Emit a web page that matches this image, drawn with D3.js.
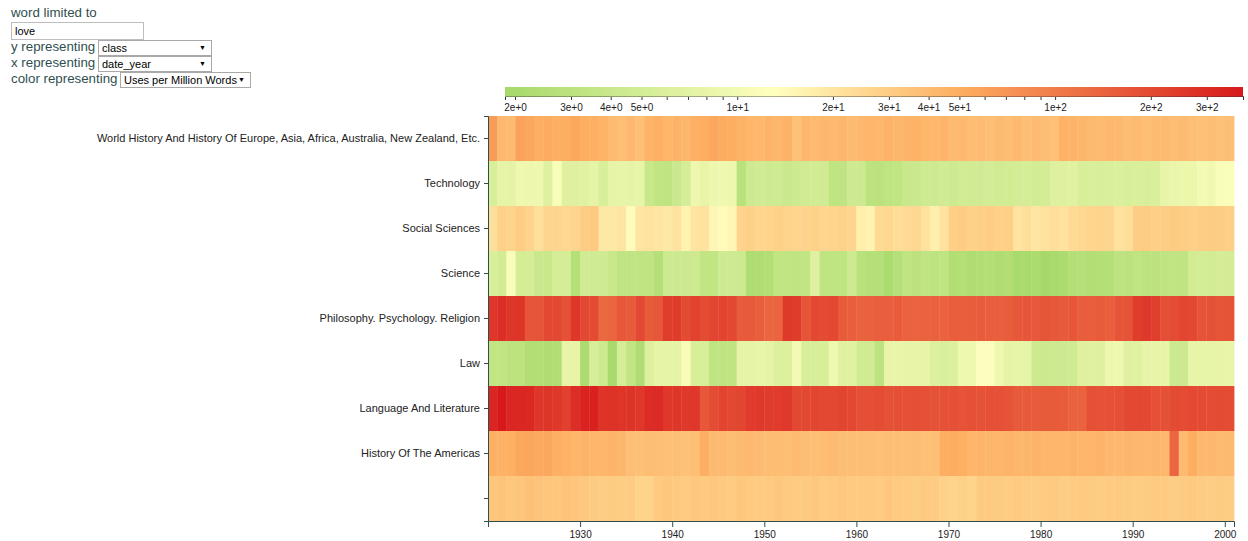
<!DOCTYPE html>
<html>
<head>
<meta charset="utf-8">
<script src="https://cdn.jsdelivr.net/npm/d3@7"></script>
<style>
  html, body { margin: 0; padding: 0; background: #fff; }
  body { font-family: "Liberation Sans", Arial, sans-serif; width: 1248px; height: 541px; position: relative; overflow: hidden; }
  .lbl { position: absolute; left: 11px; font-size: 13.3px; line-height: 16px; color: #2f4f4f; white-space: nowrap; }
  .box { position: absolute; box-sizing: border-box; border: 1px solid #a9a9a9; background: #fff; font-size: 11px; line-height: 14px; color: #000; padding-left: 3px; white-space: nowrap; }
  .box .arr { position: absolute; right: 5px; top: 0; font-size: 7px; }
  svg { position: absolute; left: 0; top: 0; }
</style>
</head>
<body>
<script>
// classes on the y axis, listed top to bottom
const categories = [
  "World History And History Of Europe, Asia, Africa, Australia, New Zealand, Etc.",
  "Technology",
  "Social Sciences",
  "Science",
  "Philosophy. Psychology. Religion",
  "Law",
  "Language And Literature",
  "History Of The Americas",
  ""
];

const firstYear = 1920;
const lastYear = 2000;
const xTickYears = [1930, 1940, 1950, 1960, 1970, 1980, 1990, 2000];

// uses of "love" per million words, one value per year 1920..2000
const worldHistory = [
  66, 42, 40, 60, 55, 50, 52, 48, 50, 55,
  50, 48, 45, 40, 38, 42, 37, 45, 48, 44,
  46, 43, 48, 50, 55, 52, 50, 46, 44, 42,
  45, 43, 46, 36, 44, 40, 42, 41, 43, 40,
  42, 44, 42, 46, 43, 45, 47, 44, 42, 45,
  40, 41, 39, 40, 38, 40, 39, 41, 38, 40,
  39, 37, 47, 45, 43, 41, 40, 42, 41, 39,
  40, 38, 40, 41, 39, 40, 38, 37, 39, 36,
  38
];
const technology = [
  5.6, 7.5, 7.2, 9, 8.8, 9, 6.5, 11.5, 6.5, 6.4,
  6.6, 7.5, 5.6, 7.5, 7.8, 7.4, 7.6, 4.0, 3.4, 3.2,
  4.1, 5.1, 8.8, 7.8, 8.8, 9.0, 8.8, 2.8, 4.4, 4.7,
  4.4, 4.6, 4.1, 4.5, 4.7, 4.8, 4.7, 3.2, 3.3, 4.4,
  4.4, 3.1, 3.0, 3.2, 3.4, 4.0, 4.1, 4.6, 4.4, 4.7,
  4.5, 4.9, 4.7, 4.7, 5.0, 4.7, 4.9, 5.0, 5.1, 4.9,
  5.0, 6.5, 6.3, 6.6, 5.6, 5.8, 5.5, 5.7, 5.9, 5.6,
  5.8, 5.5, 5.7, 7.8, 8.2, 8.5, 8.5, 10, 9.5, 11.5,
  12
];
const socialSciences = [
  22, 28, 27, 30, 27, 22, 26, 26, 25, 26,
  30, 32, 19, 19, 20, 14, 20, 21, 20, 19,
  21, 16, 20, 21, 15, 14, 15, 27, 28, 26,
  27, 28, 27, 26, 27, 28, 26, 27, 28, 26,
  17, 16, 24, 25, 23, 24, 25, 21, 17, 21,
  29, 30, 28, 29, 30, 28, 29, 21, 22, 20,
  21, 22, 21, 24, 25, 26, 27, 26, 21, 22,
  30, 31, 29, 30, 31, 30, 29, 30, 31, 30,
  29
];
const science = [
  5.6, 4.9, 11.5, 5.1, 5.1, 4.0, 4.0, 5.1, 5.1, 2.6,
  4.7, 4.7, 4.6, 4.0, 3.3, 3.3, 3.3, 3.3, 2.6, 4.4,
  4.4, 4.3, 4.4, 3.4, 3.4, 4.6, 4.6, 4.5, 2.3, 2.3,
  2.4, 3.4, 3.4, 3.3, 3.4, 6.5, 3.2, 3.2, 3.2, 4.4,
  2.8, 2.6, 2.6, 2.1, 2.6, 3.2, 3.0, 3.3, 3.1, 3.2,
  2.4, 2.5, 2.3, 2.4, 2.5, 2.3, 2.4, 2.0, 1.95, 2.1,
  1.86, 2.0, 2.1, 2.5, 2.6, 2.4, 2.5, 2.6, 3.1, 3.0,
  3.2, 3.1, 3.0, 3.3, 3.4, 3.3, 4.9, 5.0, 4.8, 5.1,
  5.0
];
const philosophy = [
  260, 290, 260, 265, 170, 175, 200, 205, 180, 260,
  200, 195, 130, 135, 165, 160, 205, 160, 165, 235,
  240, 195, 220, 195, 210, 215, 205, 155, 160, 150,
  135, 138, 250, 240, 170, 200, 195, 205, 155, 150,
  140, 145, 150, 150, 155, 140, 138, 142, 145, 140,
  150, 148, 152, 155, 150, 148, 152, 165, 168, 162,
  170, 165, 160, 168, 152, 150, 155, 150, 170, 175,
  235, 250, 230, 185, 190, 210, 205, 175, 180, 170,
  175
];
const law = [
  3.4, 3.4, 3.1, 3.1, 2.4, 2.4, 2.3, 2.4, 7.8, 7.8,
  2.1, 5.4, 4.5, 2.0, 5.1, 3.4, 2.3, 6.0, 7.5, 7.5,
  7.5, 11, 5.6, 5.6, 3.2, 3.2, 3.3, 7.5, 7.5, 7.6,
  7.5, 6.0, 6.0, 10, 5.6, 5.6, 5.6, 9.0, 6.6, 6.6,
  4.7, 4.7, 3.1, 7.8, 8.0, 7.6, 7.8, 7.9, 6.0, 5.8,
  6.0, 9.0, 9.2, 12.5, 12.5, 9.0, 7.5, 7.6, 7.4, 4.4,
  4.3, 4.5, 4.4, 4.6, 6.5, 6.6, 6.4, 8.8, 9.0, 6.5,
  6.6, 7.8, 7.9, 7.7, 4.2, 4.3, 7.8, 7.9, 7.6, 7.8,
  8.0
];
const languageLiterature = [
  330, 390, 320, 320, 315, 260, 265, 255, 225, 290,
  340, 345, 270, 275, 265, 270, 255, 300, 305, 255,
  260, 250, 255, 165, 190, 215, 205, 210, 245, 250,
  240, 245, 250, 205, 200, 210, 205, 200, 210, 205,
  185, 185, 190, 180, 185, 180, 185, 180, 178, 182,
  180, 176, 180, 178, 182, 180, 176, 158, 160, 155,
  158, 160, 156, 145, 142, 180, 178, 182, 185, 200,
  205, 198, 182, 180, 195, 192, 198, 195, 190, 196,
  194
];
const historyAmericas = [
  48, 47, 49, 55, 56, 54, 55, 48, 47, 44,
  45, 43, 44, 45, 43, 38, 37, 39, 38, 37,
  38, 36, 38, 48, 40, 41, 39, 40, 41, 40,
  39, 39, 38, 40, 39, 38, 39, 40, 38, 39,
  38, 38, 37, 39, 38, 38, 39, 37, 38, 50,
  51, 49, 44, 45, 43, 44, 45, 44, 43, 45,
  44, 43, 44, 45, 43, 44, 45, 42, 41, 43,
  42, 41, 43, 42, 135, 40, 50, 41, 42, 40,
  41
];
const unclassified = [
  34, 35, 33, 34, 36, 35, 34, 33, 35, 34,
  33, 31, 30, 31, 30, 31, 27, 27, 32, 33,
  32, 31, 33, 32, 33, 32, 31, 33, 32, 31,
  32, 33, 32, 31, 32, 33, 31, 32, 33, 32,
  31, 32, 31, 33, 32, 31, 30, 32, 31, 28,
  27, 28, 27, 31, 32, 31, 30, 32, 31, 30,
  31, 32, 30, 31, 32, 31, 30, 31, 32, 31,
  30, 31, 32, 31, 30, 31, 32, 31, 30, 31,
  30
];

const seriesByClass = [
  worldHistory, technology, socialSciences, science, philosophy,
  law, languageLiterature, historyAmericas, unclassified
];

// ---- controls ----
const page = d3.select("body");
page.append("div").attr("class", "lbl").style("top", "5px").text("word limited to");
page.append("div").attr("class", "box")
  .style("left", "11px").style("top", "22px").style("width", "133px").style("height", "18px")
  .style("border-color", "#bdbdbd").style("line-height", "16px")
  .text("love");

function control(boxTop, label, boxLeft, boxWidth, value) {
  page.append("div").attr("class", "lbl").style("top", (boxTop - 1) + "px").text(label);
  const b = page.append("div").attr("class", "box")
    .style("left", boxLeft + "px").style("top", boxTop + "px")
    .style("width", boxWidth + "px").style("height", "16px");
  b.append("span").text(value);
  b.append("span").attr("class", "arr").text("\u25BC");
}
control(40, "y representing", 98, 114, "class");
control(56, "x representing", 98, 114, "date_year");
control(72, "color representing", 120, 131, "Uses per Million Words");

// ---- chart ----
const W = 1248, H = 541;
const plotLeft = 488, plotRight = 1234, plotTop = 116, plotBottom = 521;
const svg = page.append("svg").attr("width", W).attr("height", H);

const x = d3.scaleLinear().domain([firstYear, lastYear + 1]).range([plotLeft, plotRight]);
const y = d3.scaleBand().domain(categories).range([plotTop, plotBottom]);

const cells = [];
categories.forEach((c, ci) => {
  seriesByClass[ci].forEach((v, i) => cells.push({ c, year: firstYear + i, v }));
});

const extent = d3.extent(cells, d => d.v);
const color = d3.scaleLog()
  .domain([extent[0], 13, 50, extent[1]])
  .range(["#a6d96a", "#ffffbf", "#fdae61", "#d7191c"])
  .clamp(true);

svg.append("g").selectAll("rect").data(cells).join("rect")
  .attr("x", d => x(d.year))
  .attr("y", d => y(d.c))
  .attr("width", d => x(d.year + 1) - x(d.year) + 0.4)
  .attr("height", y.bandwidth())
  .attr("fill", d => color(d.v));

const axisColor = "#2f4f4f";
const gy = svg.append("g").attr("transform", `translate(${plotLeft},0)`)
  .call(d3.axisLeft(y).tickSize(4).tickSizeOuter(4).tickPadding(4));
const gx = svg.append("g").attr("transform", `translate(0,${plotBottom})`)
  .call(d3.axisBottom(x).tickValues(xTickYears).tickFormat(d3.format("d")).tickSize(6).tickPadding(4));
[gx, gy].forEach(g => {
  g.selectAll("path, line").attr("stroke", axisColor);
  g.selectAll("text").attr("fill", "#222")
    .style("font-family", "'Liberation Sans', Arial, sans-serif").style("font-size", "10px");
});
gy.selectAll("text").style("font-size", "11px");

// ---- colour legend ----
const legX0 = 505, legX1 = 1243, legY = 87, legH = 9;
const leg = d3.scaleLog().domain(extent).range([legX0, legX1]);
const gl = svg.append("g").attr("transform", `translate(0,${legY + legH})`)
  .call(d3.axisBottom(leg).ticks(10, ".0e").tickSize(4).tickSizeOuter(4).tickPadding(4));
gl.selectAll("path, line").attr("stroke", "#333");
gl.selectAll("text").attr("fill", "#222")
  .style("font-family", "'Liberation Sans', Arial, sans-serif").style("font-size", "10px");

const grad = svg.append("defs").append("linearGradient").attr("id", "legendGrad")
  .attr("x1", "0%").attr("x2", "100%").attr("y1", "0%").attr("y2", "0%");
d3.range(0, 101).forEach(p => {
  const v = leg.invert(legX0 + (legX1 - legX0) * p / 100);
  grad.append("stop").attr("offset", p + "%").attr("stop-color", color(v));
});
svg.append("rect").attr("x", legX0).attr("y", legY).attr("width", legX1 - legX0).attr("height", legH + 0.6)
  .attr("fill", "url(#legendGrad)");
</script>
</body>
</html>
